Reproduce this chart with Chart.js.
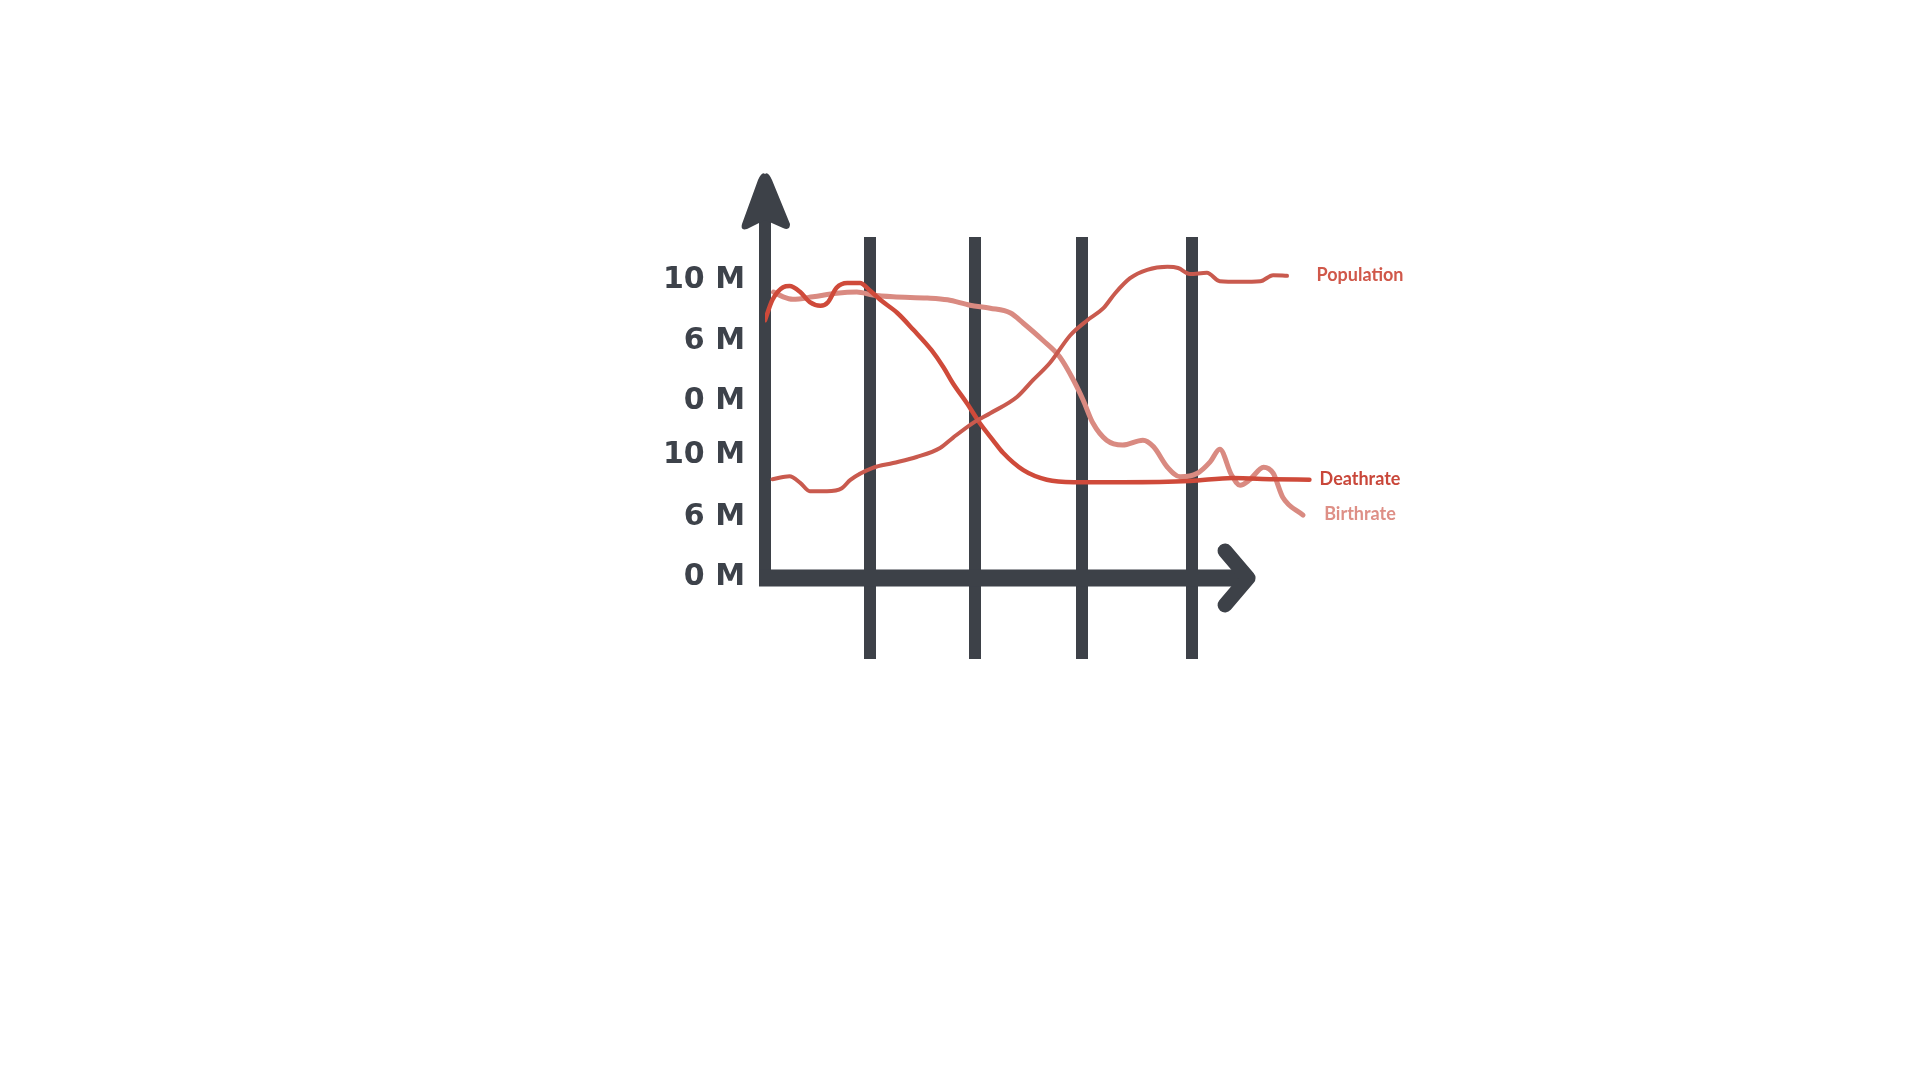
<!DOCTYPE html>
<html>
<head>
<meta charset="utf-8">
<title>Population, Deathrate, Birthrate</title>
<script src="https://cdn.jsdelivr.net/npm/chart.js@4.4.1/dist/chart.umd.min.js"></script>
<style>
    html, body { margin: 0; background: #ffffff; }
    #wrap { width: 1920px; height: 1080px; }
</style>
</head>
<body>
<div id="wrap"><canvas id="chart" width="1920" height="1080"></canvas></div>
<script>
// --- DATOS (leídos a ojo del dibujo) ---
const yTickValues = [0, 1, 2.03, 2.93, 3.93, 4.95];
const yTickLabels = ['0 M', '6 M', '10 M', '0 M', '6 M', '10 M'];
const xTickValues = [0.98, 1.97, 2.97, 4.0];

const populationX = [0.07, 0.23, 0.33, 0.42, 0.58, 0.72, 0.80, 1.01, 1.20, 1.42, 1.64, 1.76, 1.95, 2.11, 2.36, 2.51, 2.67, 2.86, 3.02, 3.17, 3.28, 3.42, 3.58, 3.77, 3.87, 3.98, 4.14, 4.26, 4.45, 4.64, 4.76, 4.89];
const populationY = [1.63, 1.68, 1.57, 1.43, 1.43, 1.48, 1.62, 1.82, 1.90, 2.00, 2.15, 2.32, 2.57, 2.73, 3.00, 3.28, 3.57, 4.03, 4.28, 4.48, 4.73, 4.98, 5.12, 5.17, 5.15, 5.05, 5.07, 4.93, 4.92, 4.93, 5.03, 5.02];

const deathrateX = [0.00, 0.07, 0.17, 0.23, 0.33, 0.42, 0.52, 0.59, 0.67, 0.77, 0.89, 0.98, 1.08, 1.24, 1.39, 1.56, 1.67, 1.76, 1.89, 2.01, 2.14, 2.23, 2.42, 2.64, 2.89, 3.35, 3.98, 4.38, 4.76, 5.10];
const deathrateY = [4.28, 4.62, 4.83, 4.85, 4.75, 4.58, 4.52, 4.58, 4.82, 4.90, 4.90, 4.78, 4.62, 4.40, 4.12, 3.78, 3.50, 3.23, 2.90, 2.57, 2.27, 2.07, 1.78, 1.62, 1.58, 1.58, 1.60, 1.65, 1.63, 1.62];

const birthrateX = [0.08, 0.17, 0.26, 0.45, 0.67, 0.86, 1.01, 1.20, 1.52, 1.71, 1.92, 2.11, 2.30, 2.42, 2.60, 2.76, 2.89, 2.98, 3.07, 3.20, 3.35, 3.54, 3.64, 3.77, 3.89, 4.05, 4.17, 4.26, 4.37, 4.45, 4.54, 4.67, 4.76, 4.85, 5.04];
const birthrateY = [4.75, 4.67, 4.63, 4.67, 4.73, 4.75, 4.70, 4.67, 4.65, 4.62, 4.53, 4.48, 4.40, 4.23, 3.95, 3.67, 3.28, 2.95, 2.57, 2.28, 2.20, 2.28, 2.17, 1.83, 1.67, 1.73, 1.92, 2.13, 1.70, 1.53, 1.62, 1.83, 1.73, 1.33, 1.03];

const seriesNames = ['Population', 'Deathrate', 'Birthrate'];

// --- ESTILO ---
const axisColor = '#3d4148';
const lineColors = ['#c95a4e', '#cf4a3a', '#d98a81'];
const labelColors = ['#d0584a', '#c9473a', '#de8f86'];

const toPoints = (xs, ys) => xs.map((x, i) => ({ x: x, y: ys[i] }));

// Ejes con flechas dibujados a mano (como en el boceto)
const arrowAxes = {
    id: 'arrowAxes',
    beforeDatasetsDraw(chart) {
        const { ctx, chartArea, scales } = chart;
        const left = chartArea.left;
        const bottom = chartArea.bottom;
        const xEnd = scales.x.getPixelForValue(4.6);
        ctx.save();
        ctx.strokeStyle = axisColor;
        ctx.fillStyle = axisColor;
        ctx.lineCap = 'butt';

        // eje Y
        ctx.lineWidth = 12;
        ctx.beginPath();
        ctx.moveTo(left, bottom + 9);
        ctx.lineTo(left, chartArea.top - 30);
        ctx.stroke();
        // punta de flecha Y
        const tipY = chartArea.top - 63;
        ctx.beginPath();
        ctx.moveTo(left, tipY);
        ctx.quadraticCurveTo(left + 3, tipY - 3, left + 7, tipY + 6);
        ctx.lineTo(left + 25, tipY + 50);
        ctx.quadraticCurveTo(left + 25, tipY + 57, left + 18, tipY + 54);
        ctx.lineTo(left, tipY + 46);
        ctx.lineTo(left - 18, tipY + 55);
        ctx.quadraticCurveTo(left - 25, tipY + 57, left - 23, tipY + 50);
        ctx.lineTo(left - 7, tipY + 6);
        ctx.quadraticCurveTo(left - 3, tipY - 3, left, tipY);
        ctx.closePath();
        ctx.fill();

        // eje X
        ctx.lineWidth = 17;
        ctx.beginPath();
        ctx.moveTo(left - 6, bottom + 1);
        ctx.lineTo(xEnd - 10, bottom + 1);
        ctx.stroke();
        // punta de flecha X
        ctx.lineWidth = 15;
        ctx.lineCap = 'round';
        ctx.lineJoin = 'round';
        ctx.beginPath();
        ctx.moveTo(xEnd - 31, bottom - 26);
        ctx.lineTo(xEnd - 8, bottom + 1);
        ctx.lineTo(xEnd - 31, bottom + 28);
        ctx.stroke();
        ctx.restore();
    }
};

// Nombres de cada serie a la derecha de su último punto
const endLabels = {
    id: 'endLabels',
    afterDatasetsDraw(chart) {
        const { ctx, chartArea } = chart;
        ctx.save();
        ctx.font = 'bold 18px Lato';
        ctx.textAlign = 'center';
        ctx.textBaseline = 'middle';
        chart.data.datasets.forEach((ds, i) => {
            const meta = chart.getDatasetMeta(i);
            const last = meta.data[meta.data.length - 1];
            ctx.fillStyle = labelColors[i];
            ctx.fillText(ds.label, chartArea.right + 48, last.y - 1);
        });
        ctx.restore();
    }
};

document.addEventListener('DOMContentLoaded', () => {
    const ctx = document.getElementById('chart').getContext('2d');
    new Chart(ctx, {
        type: 'line',
        data: {
            datasets: [
                { label: seriesNames[0], data: toPoints(populationX, populationY), borderColor: lineColors[0], borderWidth: 4 },
                { label: seriesNames[1], data: toPoints(deathrateX, deathrateY), borderColor: lineColors[1], borderWidth: 4.5 },
                { label: seriesNames[2], data: toPoints(birthrateX, birthrateY), borderColor: lineColors[2], borderWidth: 5 }
            ]
        },
        options: {
            responsive: false,
            devicePixelRatio: 1,
            animation: false,
            layout: { padding: { left: 600, top: 237, right: 608, bottom: 403 } },
            elements: {
                point: { radius: 0 },
                line: { tension: 0.4, cubicInterpolationMode: 'monotone', borderCapStyle: 'round', borderJoinStyle: 'round', fill: false }
            },
            plugins: {
                legend: { display: false },
                tooltip: { enabled: false }
            },
            scales: {
                x: {
                    type: 'linear',
                    min: 0,
                    max: 5.124,
                    afterBuildTicks: (scale) => { scale.ticks = xTickValues.map(v => ({ value: v })); },
                    afterFit: (scale) => { scale.height = 100; },
                    grid: {
                        color: axisColor,
                        lineWidth: 12,
                        drawTicks: true,
                        tickLength: 82,
                        tickColor: axisColor,
                        tickWidth: 12
                    },
                    border: { display: false },
                    ticks: { display: false }
                },
                y: {
                    type: 'linear',
                    min: 0,
                    max: 5.667,
                    afterBuildTicks: (scale) => { scale.ticks = yTickValues.map(v => ({ value: v })); },
                    afterFit: (scale) => { scale.width = 165; },
                    grid: { display: false, drawTicks: false },
                    border: { display: false },
                    ticks: {
                        padding: 20,
                        color: '#3d424a',
                        font: { family: 'DejaVu Sans', weight: 'bold', size: 30 },
                        callback: (value, index) => yTickLabels[index]
                    }
                }
            }
        },
        plugins: [arrowAxes, endLabels]
    });
});
</script>
</body>
</html>
